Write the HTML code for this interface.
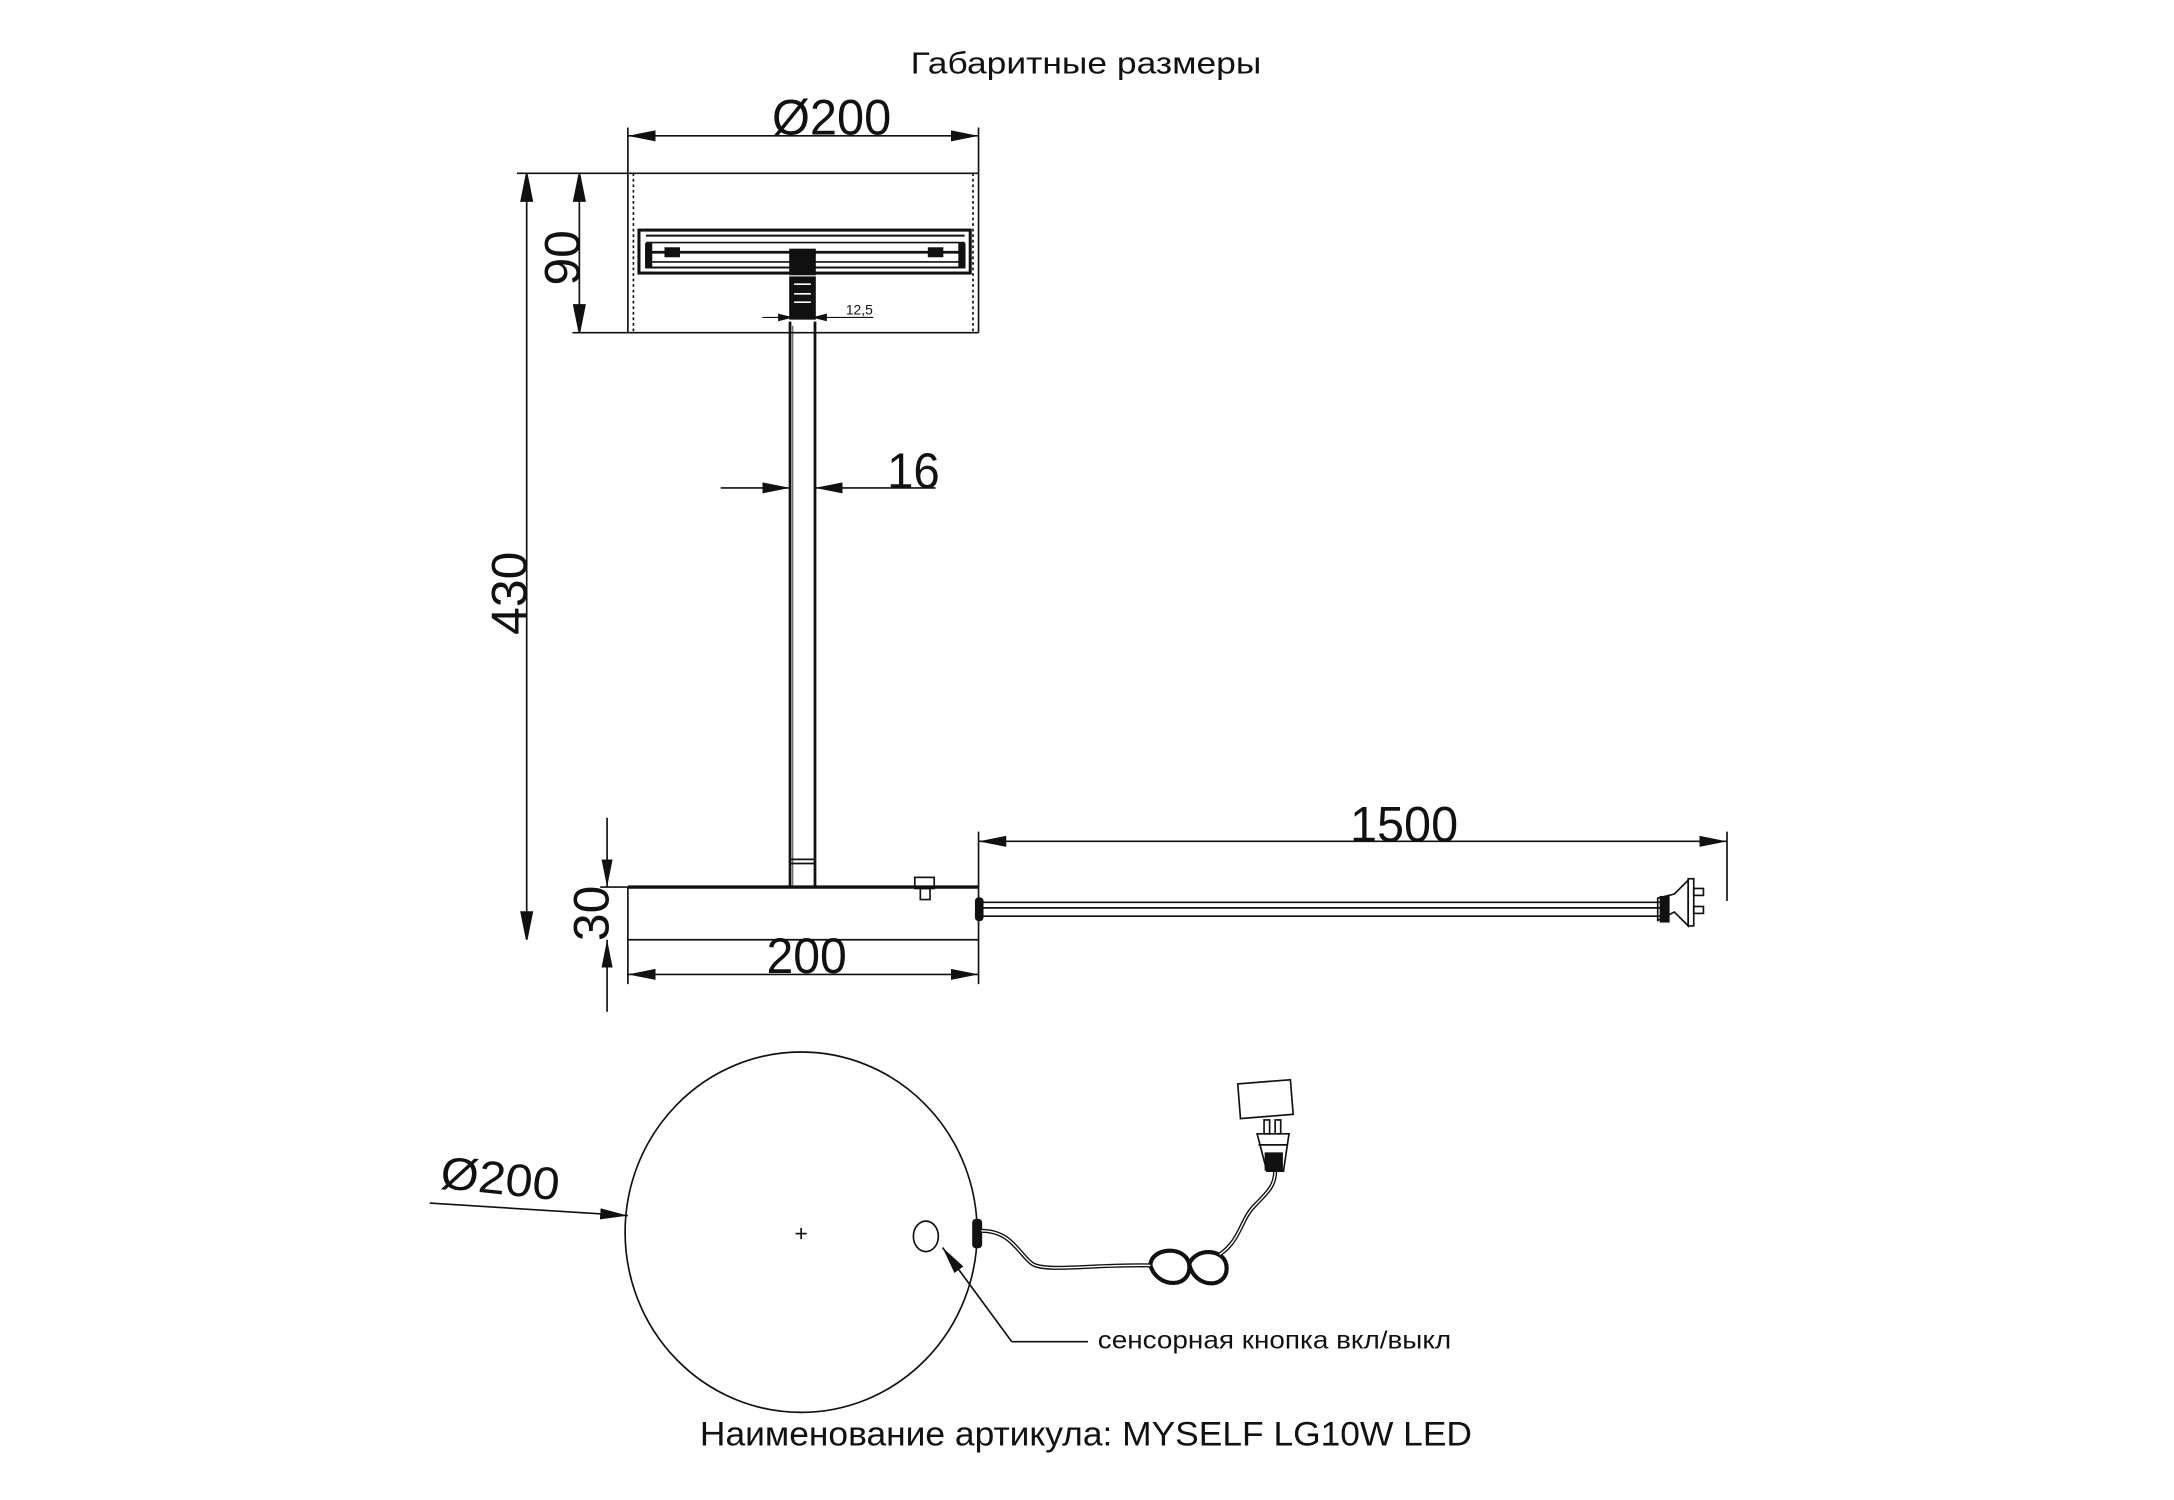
<!DOCTYPE html>
<html><head><meta charset="utf-8"><style>
html,body{margin:0;padding:0;background:#fff;}
svg{display:block;}
text{font-family:"Liberation Sans",sans-serif;fill:#111;}
</style></head><body>
<svg width="2174" height="1500" viewBox="0 0 1568.5 1082.2" xmlns="http://www.w3.org/2000/svg">
<defs>
<marker id="a" viewBox="0 0 20 8" refX="20" refY="4" markerWidth="20" markerHeight="8" markerUnits="userSpaceOnUse" orient="auto-start-reverse"><path d="M0,0 L20,4 L0,8 Z" fill="#111"/></marker>
</defs>
<g stroke="#111" fill="none" stroke-width="1.2">
<line x1="453" y1="92" x2="453" y2="240"/>
<line x1="706" y1="92" x2="706" y2="240"/>
<line x1="453" y1="98" x2="706" y2="98" marker-start="url(#a)" marker-end="url(#a)"/>
<line x1="373" y1="125" x2="706" y2="125"/>
<line x1="413" y1="240" x2="706" y2="240"/>
<line x1="457" y1="125" x2="457" y2="240" stroke-dasharray="2 2"/>
<line x1="702" y1="125" x2="702" y2="240" stroke-dasharray="2 2"/>
<line x1="418" y1="128" x2="418" y2="237"/>
<path d="M418,125 L414,145 L422,145 Z M418,240 L414,220 L422,220 Z" fill="#111"/>
<line x1="380" y1="128" x2="380" y2="675"/>
<path d="M380,125 L376,145 L384,145 Z M380,678 L376,658 L384,658 Z" fill="#111"/>
<rect x="461" y="166" width="239" height="31" stroke-width="2.2"/>
<line x1="466" y1="170" x2="696" y2="170" stroke-width="1.5"/>
<line x1="466" y1="175" x2="696" y2="175"/>
<line x1="466" y1="182" x2="696" y2="182" stroke-width="2"/>
<line x1="466" y1="189" x2="696" y2="189"/>
<line x1="466" y1="193" x2="696" y2="193" stroke-width="1.5"/>
<rect x="466" y="176" width="4" height="17" fill="#111"/>
<rect x="692" y="176" width="4" height="17" fill="#111"/>
<rect x="480" y="179" width="10" height="6" fill="#111"/>
<rect x="670" y="179" width="10" height="6" fill="#111"/>
<rect x="570" y="180" width="18" height="18" fill="#111"/>
<rect x="570" y="200" width="18" height="30" fill="#111"/>
<line x1="573" y1="205" x2="585" y2="205" stroke="#fff"/>
<line x1="573" y1="212" x2="585" y2="212" stroke="#fff"/>
<line x1="573" y1="218" x2="585" y2="218" stroke="#fff"/>
<line x1="550" y1="229" x2="630" y2="229" stroke-width="0.8"/>
<path d="M570,229 L562,227 L562,231 Z M588,229 L596,227 L596,231 Z" fill="#111"/>
<line x1="570" y1="232" x2="570" y2="640" stroke-width="2"/>
<line x1="588" y1="232" x2="588" y2="640" stroke-width="2"/>
<line x1="572" y1="235" x2="572" y2="640" stroke-width="0.6"/>
<line x1="570" y1="620" x2="588" y2="620"/>
<line x1="570" y1="623" x2="588" y2="623"/>
<line x1="520" y1="352" x2="570" y2="352" marker-end="url(#a)"/>
<line x1="675" y1="352" x2="588" y2="352" marker-end="url(#a)"/>
<line x1="453" y1="640" x2="706" y2="640" stroke-width="2.5"/>
<line x1="453" y1="678" x2="706" y2="678"/>
<line x1="453" y1="640" x2="453" y2="710"/>
<line x1="706" y1="600" x2="706" y2="710"/>
<rect x="660" y="633" width="14" height="8"/>
<rect x="664" y="641" width="7" height="8"/>
<rect x="704" y="648" width="5" height="16" fill="#111" rx="2"/>
<line x1="708" y1="651" x2="1198" y2="651"/>
<line x1="708" y1="655" x2="1198" y2="655"/>
<line x1="708" y1="661" x2="1198" y2="661"/>
<path d="M1196,648 L1208,645 L1218,635 L1218,668 L1208,658 L1196,664 Z"/>
<rect x="1198" y="647" width="6" height="18" fill="#111"/>
<rect x="1218" y="634" width="4" height="34"/>
<rect x="1222" y="641" width="7" height="5"/>
<rect x="1222" y="654" width="7" height="5"/>
<line x1="1246" y1="600" x2="1246" y2="650"/>
<line x1="706" y1="607" x2="1246" y2="607" marker-start="url(#a)" marker-end="url(#a)"/>
<line x1="453" y1="703" x2="706" y2="703" marker-start="url(#a)" marker-end="url(#a)"/>
<line x1="438" y1="590" x2="438" y2="640" marker-end="url(#a)"/>
<line x1="438" y1="730" x2="438" y2="678" marker-end="url(#a)"/>
<line x1="433" y1="640" x2="453" y2="640"/>
<ellipse cx="578" cy="889" rx="127" ry="130"/>
<line x1="574" y1="890" x2="582" y2="890"/>
<line x1="578" y1="886" x2="578" y2="894"/>
<ellipse cx="668" cy="892" rx="9" ry="11"/>
<path d="M730,968 L680,900" marker-end="url(#a)"/>
<line x1="730" y1="968" x2="785" y2="968"/>
<path d="M310,868 L453,877" marker-end="url(#a)"/>
<rect x="702" y="880" width="6" height="20" fill="#111" rx="2"/>
<g stroke-width="3">
<path d="M708,888 C730,888 735,905 745,912 C755,918 790,912 830,913"/>
<path d="M830,913 C830,900 855,898 858,912 C860,930 835,930 830,913 Z"/>
<path d="M858,912 C862,900 885,900 885,915 C885,930 862,930 858,912 Z"/>
<path d="M880,905 C895,895 895,880 905,870 C915,860 920,855 920,845"/>
</g>
<g stroke-width="1" stroke="#fff">
<path d="M708,888 C730,888 735,905 745,912 C755,918 790,912 830,913"/>
<path d="M880,905 C895,895 895,880 905,870 C915,860 920,855 920,845"/>
</g>
<path d="M914,845 L926,845 L930,818 L907,818 Z"/>
<rect x="913" y="832" width="12" height="12" fill="#111"/>
<line x1="908" y1="826" x2="929" y2="826"/>
<rect x="912" y="808" width="4" height="10"/>
<rect x="920" y="808" width="4" height="10"/>
<path d="M893,782 L931,779 L933,804 L895,807 Z"/>
</g>
<text x="657" y="53" font-size="22" textLength="253" lengthAdjust="spacingAndGlyphs">Габаритные размеры</text>
<text x="557" y="97" font-size="36" textLength="86" lengthAdjust="spacingAndGlyphs">Ø200</text>
<text x="640" y="352" font-size="36" textLength="38" lengthAdjust="spacingAndGlyphs">16</text>
<text x="620" y="227" font-size="10" text-anchor="middle">12,5</text>
<text x="974" y="607" font-size="36" textLength="78" lengthAdjust="spacingAndGlyphs">1500</text>
<text x="553" y="702" font-size="36" textLength="58" lengthAdjust="spacingAndGlyphs">200</text>
<text transform="translate(418,186) rotate(-90)" font-size="36" text-anchor="middle">90</text>
<text transform="translate(380,428) rotate(-90)" font-size="36" text-anchor="middle">430</text>
<text transform="translate(439,659) rotate(-90)" font-size="36" text-anchor="middle">30</text>
<text transform="translate(317,857) rotate(6)" font-size="33" textLength="86" lengthAdjust="spacingAndGlyphs">Ø200</text>
<text x="792" y="973" font-size="18" textLength="255" lengthAdjust="spacingAndGlyphs">сенсорная кнопка вкл/выкл</text>
<text x="505" y="1043" font-size="25" textLength="557" lengthAdjust="spacingAndGlyphs">Наименование артикула: MYSELF LG10W LED</text>
</svg>
</body></html>
